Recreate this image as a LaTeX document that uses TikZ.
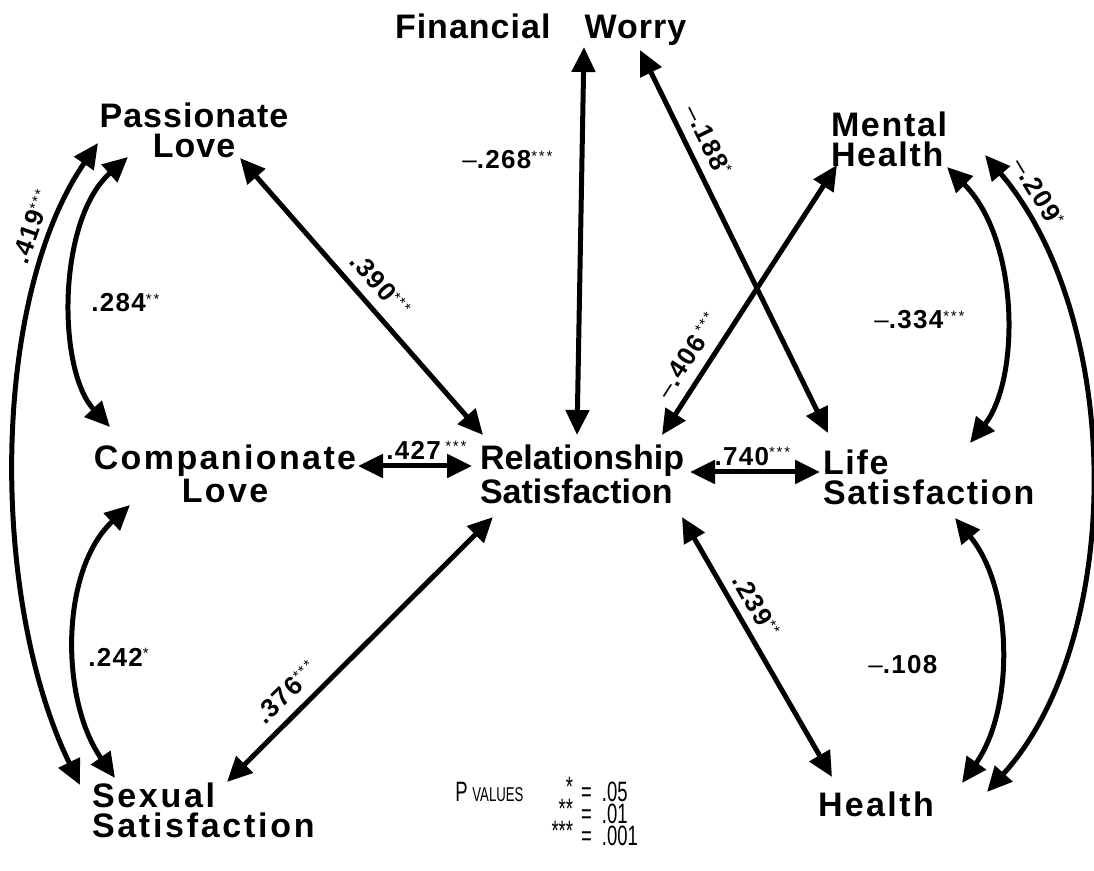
\documentclass[tikz,border=0pt]{standalone}
\usepackage{fontspec}
\usetikzlibrary{arrows.meta}
\newfontfamily\nodefont{Liberation Sans Bold}
\newfontfamily\labfont{Liberation Sans Bold}
\newfontfamily\thinfont{Liberation Sans}
\newfontfamily\starfont[LetterSpace=12]{Liberation Sans}
\newfontfamily\legfont[FakeStretch=0.66]{Liberation Sans}
\newcommand\sig[1]{\raisebox{0.3em}{\starfont\fontsize{7.5}{7.5}\selectfont #1}}
\newcommand\mns{{\thinfont\addfontfeatures{LetterSpace=0}–}}
\newcommand\sm[1]{\smash{#1}}
\begin{document}
\begin{tikzpicture}[x=0.5pt,y=-0.5pt,
  nd/.style={font={\nodefont\fontsize{17}{15}\selectfont\addfontfeatures{LetterSpace=#1}},inner sep=0pt,outer sep=0pt,align=left},
  lbl/.style={font={\labfont\fontsize{13}{13}\selectfont\addfontfeatures{LetterSpace=5}},inner sep=1pt},
  conn/.style={line width=2.5pt,{Triangle[length=12.5pt,width=11.5pt]}-{Triangle[length=12.5pt,width=11.5pt]}}]
\path[use as bounding box,fill=white] (0,0) rectangle (1094,871);

% nodes
\node[nd=3,anchor=north west] (fw) at (395,14) {Financial\hspace{1.0em}Worry};
\node[nd=3,anchor=north,align=center] (pl) at (194,103) {Passionate\\Love};
\node[nd=5,anchor=north west] (mh) at (831,112) {Mental\\Health};
\node[nd=7,anchor=north,align=center] (cl) at (225,445) {Companionate\\Love};
\node[nd=0,anchor=north west] (rs) at (480,445) {Relationship\\Satisfaction};
\node[nd=5,anchor=north west] (ls) at (823,450) {Life\\Satisfaction};
\node[nd=8,anchor=north west] (ss) at (92,783) {Sexual\\Satisfaction};
\node[nd=7,anchor=north west] (h) at (818,792) {Health};

% straight connectors
\draw[conn] ([shift={(189,33)}]fw.north west) -- ([shift={(97,-10)}]rs.north west);
\draw[conn] ([shift={(245,36)}]fw.north west) -- node[lbl,sloped,above=4pt,pos=0.26] (l188) {\mns.188\sig{*}} ([shift={(5,-17)}]ls.north west);
\draw[conn] ([shift={(182,-10)}]rs.north west) -- node[lbl,sloped,above=4pt,pos=0.25] (l406) {\mns.406\,\sig{***}} ([shift={(6,53)}]mh.north west);
\draw[conn] ([shift={(46,55)}]pl.north) -- node[lbl,sloped,above=4pt,pos=0.51] (l390) {.390\sig{***}} ([shift={(3,-10)}]rs.north west);
\draw[conn] ([shift={(133,21)}]cl.north) -- node[lbl,above=1pt,pos=0.6] (l427) {.427\,\sig{***}} ([shift={(-8,21)}]rs.north west);
\draw[conn] ([shift={(210,27)}]rs.north west) -- node[lbl,above=1pt,pos=0.48] (l740) {.740\sig{***}} ([shift={(-3,22)}]ls.north west);
\draw[conn] ([shift={(135,-1)}]ss.north west) -- node[lbl,sloped,above=4pt,pos=0.28] (l376) {.376\sig{***}} ([shift={(13,72)}]rs.north west);
\draw[conn] ([shift={(202,72)}]rs.north west) -- node[lbl,sloped,above=3pt,pos=0.38] (l239) {.239\sig{**}} ([shift={(14,-15)}]h.north west);

% curved connectors
\draw[conn] ([shift={(-12,2)}]ss.north west) .. controls +(-90,-185) and +(-108,157) .. node[lbl,sloped,above=4pt,pos=0.83] (l419) {.419\sig{***}} ([shift={(-96,40)}]pl.north);
\draw[conn] ([shift={(-66,54)}]pl.north) .. controls +(-71,63) and +(-53,-57) .. ([shift={(-115,-18)}]cl.north);
\draw[conn] ([shift={(-95,60)}]cl.north) .. controls +(-70,65) and +(-55,-78) .. ([shift={(23,-5)}]ss.north west);
\draw[conn] ([shift={(116,55)}]mh.north west) .. controls +(73,73) and +(50,-63) .. ([shift={(147,-7)}]ls.north west);
\draw[conn] ([shift={(154,43)}]mh.north west) .. controls +(140,165) and +(138,-152) .. node[lbl,sloped,above=4pt,pos=0.09] (l209) {\mns.209\sig{*}} ([shift={(169,0)}]h.north west);
\draw[conn] ([shift={(132,68)}]ls.north west) .. controls +(59,72) and +(52,-73) .. ([shift={(144,-9)}]h.north west);

% free labels
\node[lbl,anchor=west] (l268) at (460,160) {\mns.268\sig{***}};
\node[lbl,anchor=west] (l284) at (89,303) {.284\sig{**}};
\node[lbl,anchor=west] (l242) at (86,657) {.242\sig{*}};
\node[lbl,anchor=west] (l334) at (872,320) {\mns.334\sig{***}};
\node[lbl,anchor=west] (l108) at (866,665) {\mns.108};

% legend
\node[anchor=north west,inner sep=0pt,font={\legfont\fontsize{14}{11}\selectfont}] (leg) at (455,786)
 {\begin{tabular}{@{}l@{\hspace{14pt}}r@{\hspace{4pt}}c@{\hspace{5pt}}l@{}}
  \sm{P\,{\fontsize{10}{8}\selectfont VALUES}} & \sm{\raisebox{0.2em}{*}} & \sm{=} & \sm{.05}\\
   & \sm{\raisebox{0.2em}{**}} & \sm{=} & \sm{.01}\\
   & \sm{\raisebox{0.2em}{***}} & \sm{=} & \sm{.001}
 \end{tabular}};
\end{tikzpicture}
\end{document}
